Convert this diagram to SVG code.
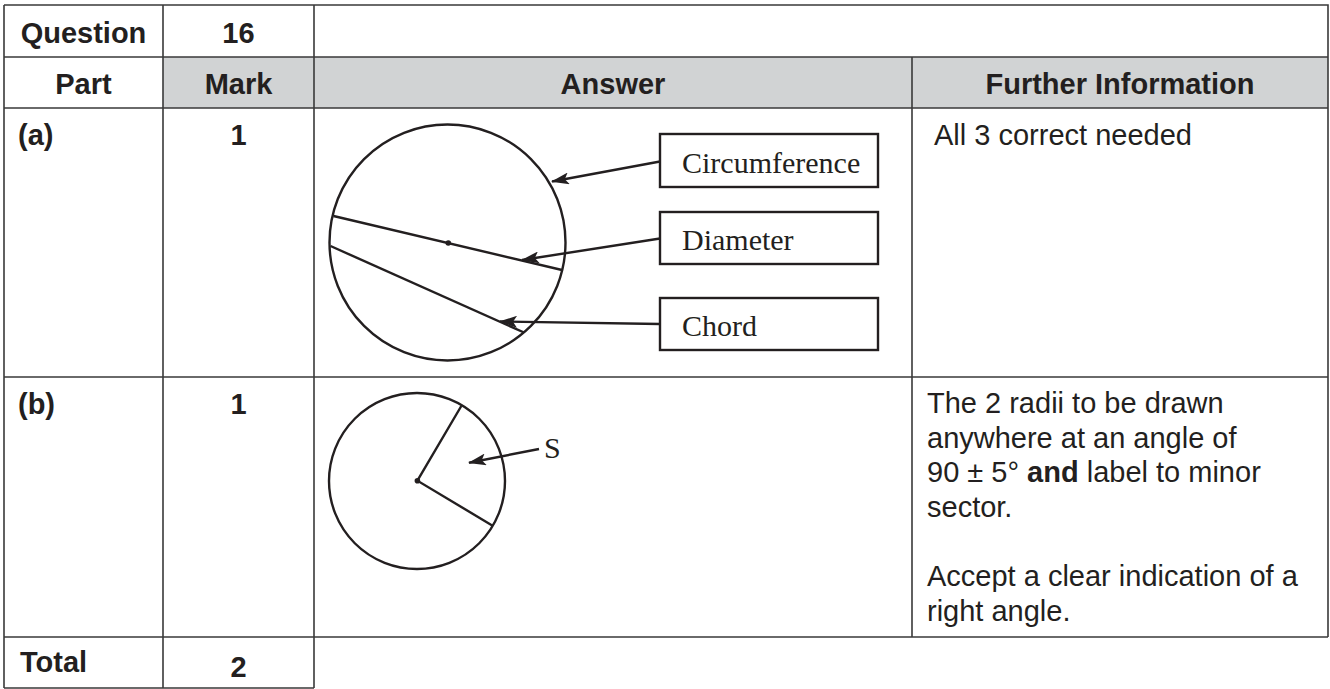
<svg xmlns="http://www.w3.org/2000/svg" width="1330" height="689" viewBox="0 0 1330 689">
<style>
.grid{stroke:#3a3a3a;stroke-width:1.6;fill:none}
.hb{font-family:"Liberation Sans",Arial,sans-serif;font-weight:bold;font-size:29px;fill:#231f20}
.tx{font-family:"Liberation Sans",Arial,sans-serif;font-size:29px;fill:#231f20}
.sf{font-family:"Liberation Serif","Times New Roman",serif;font-size:30px;fill:#231f20}
.shape{stroke:#231f20;stroke-width:2.4;fill:none}
.box{stroke:#231f20;stroke-width:2.4;fill:#fff}
.conn{stroke:#231f20;stroke-width:2.4;fill:none}
</style>
<defs>
<marker id="ah" markerUnits="userSpaceOnUse" markerWidth="20" markerHeight="12" refX="17" refY="6" orient="auto">
<path d="M0,0 L18,6 L0,12 L4,6 Z" fill="#231f20"/>
</marker>
</defs>
<rect width="1330" height="689" fill="#fff"/>
<g id="table">
<rect x="163" y="57" width="749" height="51" fill="#d1d3d4"/>
<rect x="912" y="57" width="416" height="51" fill="#d1d3d4"/>
<path class="grid" d="M4,5 H1328 V637 M4,57 H1328 M4,108 H1328 M4,377 H1328 M4,637 H1328 M4,688 H314 M4,5 V688 M163,5 V688 M314,5 V688 M912,57 V637"/>
<text class="hb" x="83.5" y="43" text-anchor="middle">Question</text>
<text class="hb" x="238.5" y="43" text-anchor="middle">16</text>
<text class="hb" x="83.5" y="94" text-anchor="middle">Part</text>
<text class="hb" x="238.5" y="94" text-anchor="middle">Mark</text>
<text class="hb" x="613" y="94" text-anchor="middle">Answer</text>
<text class="hb" x="1120" y="94" text-anchor="middle">Further Information</text>
<text class="hb" x="18" y="145">(a)</text>
<text class="hb" x="238.5" y="145" text-anchor="middle">1</text>
<text class="tx" x="934" y="145">All 3 correct needed</text>
<text class="hb" x="18" y="414">(b)</text>
<text class="hb" x="238.5" y="414" text-anchor="middle">1</text>
<text class="tx" x="927" y="413">The 2 radii to be drawn</text>
<text class="tx" x="927" y="447.5">anywhere at an angle of</text>
<text class="tx" x="927" y="482">90 ± 5° <tspan font-weight="bold">and</tspan> label to minor</text>
<text class="tx" x="927" y="516.5">sector.</text>
<text class="tx" x="927" y="586">Accept a clear indication of a</text>
<text class="tx" x="927" y="620.5">right angle.</text>
<text class="hb" x="20" y="672">Total</text>
<text class="hb" x="238.5" y="677" text-anchor="middle">2</text>
</g>
<g id="circle-a">
<circle class="shape" cx="447.5" cy="242.5" r="118"/>
<line class="shape" x1="333.5" y1="216" x2="562" y2="270"/>
<line class="shape" x1="330.5" y1="246" x2="524" y2="332.5"/>
<circle cx="448.3" cy="243" r="2.8" fill="#231f20"/>
</g>
<g id="label-circumference">
<rect class="box" x="660" y="134" width="218" height="53"/>
<text class="sf" x="682" y="173">Circumference</text>
</g>
<g id="label-diameter">
<rect class="box" x="660" y="212" width="218" height="52"/>
<text class="sf" x="682" y="250">Diameter</text>
</g>
<g id="label-chord">
<rect class="box" x="660" y="298" width="218" height="52"/>
<text class="sf" x="682" y="336">Chord</text>
</g>
<g id="circle-b">
<circle class="shape" cx="417" cy="481" r="88"/>
<polyline class="shape" points="461.3,406 417.4,480.7 492.6,525.7"/>
<circle cx="417.4" cy="480.7" r="2.8" fill="#231f20"/>
<text class="sf" x="544" y="457.5">S</text>
</g>
<g id="connectors">
<line class="conn" x1="660" y1="161.5" x2="552" y2="181.5" marker-end="url(#ah)"/>
<line class="conn" x1="660" y1="238.5" x2="522" y2="260" marker-end="url(#ah)"/>
<line class="conn" x1="660" y1="324" x2="500" y2="321.5" marker-end="url(#ah)"/>
<line class="conn" x1="539" y1="449" x2="469" y2="462.7" marker-end="url(#ah)"/>
</g>
</svg>
